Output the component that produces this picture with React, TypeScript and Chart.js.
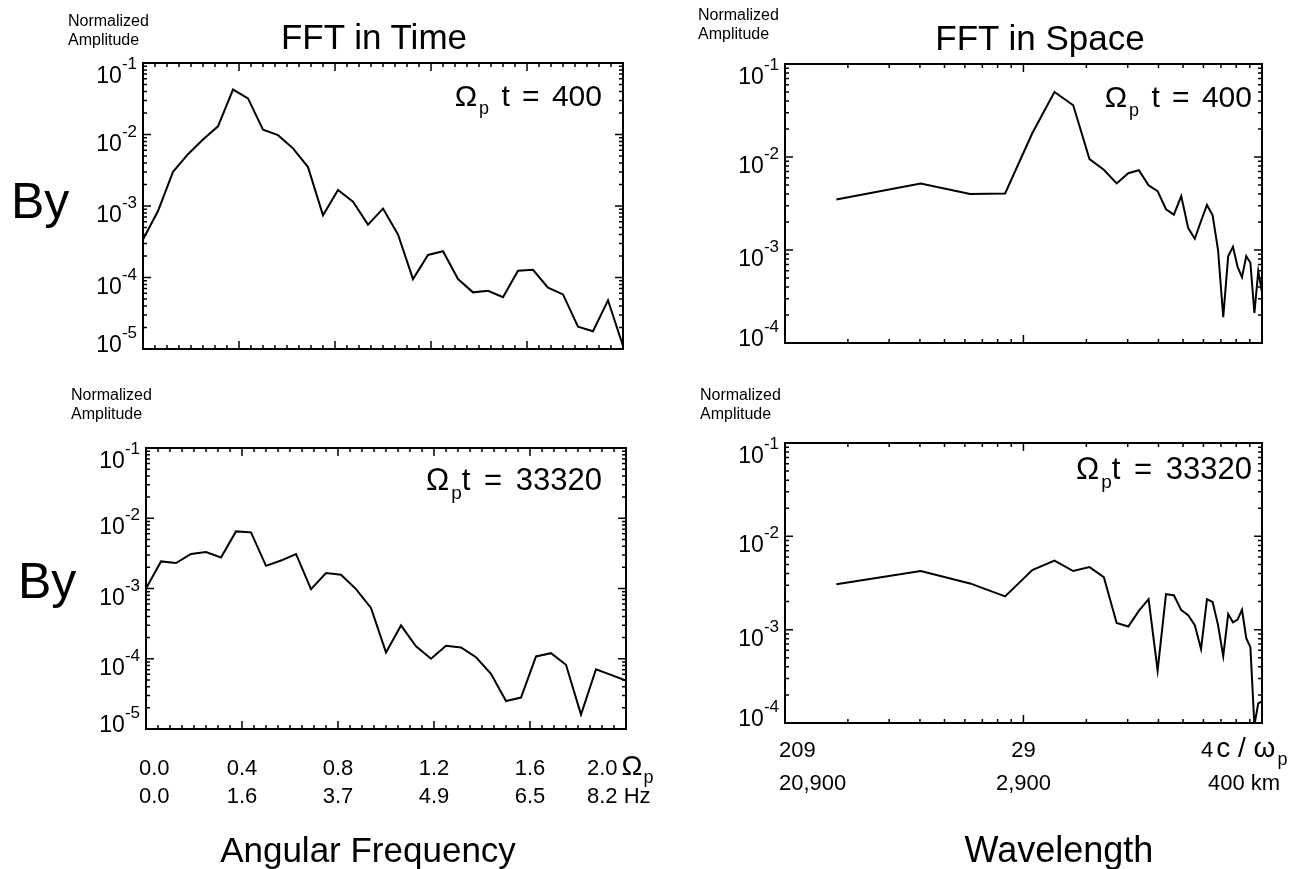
import React, { useEffect, useRef } from 'react';
import { Chart, registerables } from 'chart.js';

Chart.register(...registerables);

const PAGE_W = 1299;
const PAGE_H = 869;
const FONT = '"Liberation Sans", Arial, sans-serif';

// ---------- data ----------
// angular frequency (units of Omega_p) for the FFT in time
const freqOmega = [
  0, 0.0625, 0.125, 0.1875, 0.25, 0.3125, 0.375, 0.4375, 0.5, 0.5625, 0.625,
  0.6875, 0.75, 0.8125, 0.875, 0.9375, 1.0, 1.0625, 1.125, 1.1875, 1.25,
  1.3125, 1.375, 1.4375, 1.5, 1.5625, 1.625, 1.6875, 1.75, 1.8125, 1.875,
  1.9375, 2.0,
];
const timeAmp400 = [
  3.4e-4, 8.5e-4, 3.0e-3, 5.3e-3, 8.5e-3, 1.3e-2, 4.25e-2, 3.2e-2, 1.17e-2,
  9.8e-3, 6.4e-3, 3.5e-3, 7.4e-4, 1.67e-3, 1.15e-3, 5.5e-4, 9.2e-4, 4.0e-4,
  9.5e-5, 2.07e-4, 2.33e-4, 9.5e-5, 6.2e-5, 6.5e-5, 5.3e-5, 1.24e-4, 1.28e-4,
  7.2e-5, 5.8e-5, 2.05e-5, 1.77e-5, 4.8e-5, 1.1e-5,
];
const timeAmp33320 = [
  1.0e-3, 2.43e-3, 2.3e-3, 3.1e-3, 3.3e-3, 2.77e-3, 6.5e-3, 6.3e-3, 2.1e-3,
  2.5e-3, 3.1e-3, 9.8e-4, 1.66e-3, 1.57e-3, 9.8e-4, 5.3e-4, 1.23e-4, 2.98e-4,
  1.5e-4, 1.0e-4, 1.53e-4, 1.45e-4, 1.05e-4, 6.1e-5, 2.5e-5, 2.8e-5, 1.08e-4,
  1.2e-4, 8.2e-5, 1.6e-5, 7.1e-5, 5.9e-5, 4.9e-5,
];

// spatial mode numbers for the FFT in space
const modeNumbers = [
  1, 2, 3, 4, 5, 6, 7, 8, 9, 10, 11, 12, 13, 14, 15, 16, 17, 18, 19, 20, 21,
  22, 23, 24, 25, 26, 27, 28, 29, 30, 31, 32, 33,
];
const spaceAmp400 = [
  3.5e-3, 5.2e-3, 4.0e-3, 4.06e-3, 1.8e-2, 5.0e-2, 3.6e-2, 9.5e-3, 7.3e-3,
  5.2e-3, 6.7e-3, 7.2e-3, 4.97e-3, 4.3e-3, 2.74e-3, 2.4e-3, 3.8e-3, 1.72e-3,
  1.32e-3, 2.05e-3, 3.05e-3, 2.36e-3, 1.0e-3, 1.9e-4, 8.6e-4, 1.08e-3, 6.6e-4,
  5.1e-4, 8.6e-4, 7.3e-4, 2.1e-4, 5.9e-4, 3.5e-4,
];
const spaceAmp33320 = [
  3.06e-3, 4.25e-3, 3.13e-3, 2.27e-3, 4.35e-3, 5.5e-3, 4.25e-3, 4.68e-3,
  3.66e-3, 1.18e-3, 1.08e-3, 1.59e-3, 2.12e-3, 3.66e-4, 2.4e-3, 2.34e-3,
  1.62e-3, 1.43e-3, 1.12e-3, 6.2e-4, 2.12e-3, 1.98e-3, 1.12e-3, 5.2e-4,
  1.47e-3, 1.2e-3, 1.28e-3, 1.63e-3, 8.1e-4, 6.5e-4, 9.5e-5, 1.62e-4, 1.71e-4,
];

// tick labels
const freqTickValues = [0, 0.4, 0.8, 1.2, 1.6, 2.0];
const freqTickOmega = ['0.0', '0.4', '0.8', '1.2', '1.6', '2.0'];
const freqTickHz = ['0.0', '1.6', '3.7', '4.9', '6.5', '8.2 Hz'];
// mode-number positions of the wavelength ticks (209, 29, 4 c/omega_p)
const waveTickModes = [0.656, 4.65, 33];
const waveTickInertial = ['209', '29', '4'];
const waveTickKm = ['20,900', '2,900', '400 km'];

// ---------- panels ----------
type Box = { left: number; top: number; right: number; bottom: number };
type Panel = {
  box: Box;
  xType: 'linear' | 'logarithmic';
  xMin: number;
  xMax: number;
  yMinExp: number;
  yMaxExp: number;
  xs: number[];
  ys: number[];
  xMajor: number[];
  xMinor: number[];
  xLabels?: 'freq' | 'wave';
};

const freqMinor: number[] = [];
for (let i = 0; i <= 40; i++) {
  if (i % 8 !== 0) freqMinor.push(i * 0.05);
}
const waveMinor: number[] = [];
for (let i = 1; i <= 8; i++) {
  waveMinor.push(waveTickModes[0] + (i * (waveTickModes[1] - waveTickModes[0])) / 9);
  waveMinor.push(waveTickModes[1] + (i * (waveTickModes[2] - waveTickModes[1])) / 9);
}

const panels: Panel[] = [
  {
    box: { left: 143, top: 63, right: 623, bottom: 349 },
    xType: 'linear', xMin: 0, xMax: 2, yMinExp: -5, yMaxExp: -1,
    xs: freqOmega, ys: timeAmp400, xMajor: freqTickValues, xMinor: freqMinor,
  },
  {
    box: { left: 785, top: 64, right: 1262, bottom: 343 },
    xType: 'logarithmic', xMin: waveTickModes[0], xMax: waveTickModes[2], yMinExp: -4, yMaxExp: -1,
    xs: modeNumbers, ys: spaceAmp400, xMajor: [waveTickModes[1]], xMinor: waveMinor,
  },
  {
    box: { left: 146, top: 448, right: 626, bottom: 729 },
    xType: 'linear', xMin: 0, xMax: 2, yMinExp: -5, yMaxExp: -1,
    xs: freqOmega, ys: timeAmp33320, xMajor: freqTickValues, xMinor: freqMinor, xLabels: 'freq',
  },
  {
    box: { left: 785, top: 443, right: 1262, bottom: 723 },
    xType: 'logarithmic', xMin: waveTickModes[0], xMax: waveTickModes[2], yMinExp: -4, yMaxExp: -1,
    xs: modeNumbers, ys: spaceAmp33320, xMajor: [waveTickModes[1]], xMinor: waveMinor, xLabels: 'wave',
  },
];

function drawDecor(chart: any, p: Panel) {
  const ctx: CanvasRenderingContext2D = chart.ctx;
  const a = chart.chartArea;
  const xs = chart.scales.x;
  const ys = chart.scales.y;
  ctx.save();
  ctx.strokeStyle = '#000';
  ctx.fillStyle = '#000';
  ctx.lineWidth = 1.5;
  ctx.beginPath();
  const tickX = (v: number, len: number) => {
    const px = xs.getPixelForValue(v);
    ctx.moveTo(px, a.bottom);
    ctx.lineTo(px, a.bottom - len);
    ctx.moveTo(px, a.top);
    ctx.lineTo(px, a.top + len);
  };
  const tickY = (v: number, len: number) => {
    const py = ys.getPixelForValue(v);
    ctx.moveTo(a.left, py);
    ctx.lineTo(a.left + len, py);
    ctx.moveTo(a.right, py);
    ctx.lineTo(a.right - len, py);
  };
  p.xMajor.forEach((v) => tickX(v, 8));
  p.xMinor.forEach((v) => tickX(v, 4));
  for (let e = p.yMinExp; e <= p.yMaxExp; e++) {
    tickY(Math.pow(10, e), 8);
    if (e < p.yMaxExp) for (let k = 2; k <= 9; k++) tickY(k * Math.pow(10, e), 4);
  }
  ctx.stroke();
  ctx.lineWidth = 2;
  ctx.strokeRect(a.left, a.top, a.right - a.left, a.bottom - a.top);

  // y tick labels 10^e
  ctx.textBaseline = 'alphabetic';
  for (let e = p.yMinExp; e <= p.yMaxExp; e++) {
    const py = ys.getPixelForValue(Math.pow(10, e));
    const adj = e === p.yMaxExp ? 4 : e === p.yMinExp ? -13 : 0;
    const sup = String(e);
    ctx.textAlign = 'right';
    ctx.font = `17px ${FONT}`;
    const supRight = a.left - 6;
    ctx.fillText(sup, supRight, py + 2 + adj);
    const supW = ctx.measureText(sup).width;
    ctx.font = `23px ${FONT}`;
    ctx.fillText('10', supRight - supW, py + 16 + adj);
  }

  // x tick labels
  const LBL = 22;
  if (p.xLabels === 'freq') {
    const r1 = a.bottom + 46;
    const r2 = a.bottom + 74;
    ctx.font = `${LBL}px ${FONT}`;
    freqTickValues.forEach((v, i) => {
      const px = xs.getPixelForValue(v);
      if (i === 0) {
        ctx.textAlign = 'left';
        ctx.fillText(freqTickOmega[i], a.left - 7, r1);
        ctx.fillText(freqTickHz[i], a.left - 7, r2);
      } else if (i === freqTickValues.length - 1) {
        ctx.textAlign = 'left';
        const lx = a.right - 39;
        ctx.font = `${LBL}px ${FONT}`;
        ctx.fillText(freqTickOmega[i], lx, r1);
        const w = ctx.measureText(freqTickOmega[i]).width;
        ctx.fillText(freqTickHz[i], lx, r2);
        ctx.font = `28px ${FONT}`;
        ctx.fillText('\u03A9', lx + w + 4, r1);
        const ow = ctx.measureText('\u03A9').width;
        ctx.font = `18px ${FONT}`;
        ctx.fillText('p', lx + w + 4 + ow + 1, r1 + 8);
      } else {
        ctx.textAlign = 'center';
        ctx.font = `${LBL}px ${FONT}`;
        ctx.fillText(freqTickOmega[i], px, r1);
        ctx.fillText(freqTickHz[i], px, r2);
      }
    });
  } else if (p.xLabels === 'wave') {
    const r1 = a.bottom + 34;
    const r2 = a.bottom + 67;
    ctx.font = `${LBL}px ${FONT}`;
    waveTickModes.forEach((v, i) => {
      const px = xs.getPixelForValue(v);
      if (i === 0) {
        ctx.textAlign = 'left';
        ctx.fillText(waveTickInertial[i], a.left - 6, r1);
        ctx.fillText(waveTickKm[i], a.left - 6, r2);
      } else if (i === waveTickModes.length - 1) {
        ctx.textAlign = 'left';
        ctx.font = `${LBL}px ${FONT}`;
        const lx = a.right - 61;
        ctx.fillText(waveTickInertial[i], lx, r1);
        const w = ctx.measureText(waveTickInertial[i]).width;
        ctx.fillText(waveTickKm[i], a.right - 54, r2);
        ctx.font = `28px ${FONT}`;
        const unit = 'c / \u03C9';
        ctx.fillText(unit, lx + w + 3, r1);
        const uw = ctx.measureText(unit).width;
        ctx.font = `18px ${FONT}`;
        ctx.fillText('p', lx + w + 3 + uw + 2, r1 + 8);
      } else {
        ctx.textAlign = 'center';
        ctx.font = `${LBL}px ${FONT}`;
        ctx.fillText(waveTickInertial[i], px, r1);
        ctx.fillText(waveTickKm[i], px, r2);
      }
    });
  }
  ctx.restore();
}

function PanelChart({ p }: { p: Panel }) {
  const ref = useRef<HTMLCanvasElement | null>(null);
  useEffect(() => {
    if (!ref.current) return;
    const chart = new Chart(ref.current, {
      type: 'line',
      data: {
        datasets: [
          {
            data: p.xs.map((x, i) => ({ x, y: p.ys[i] })),
            borderColor: '#000',
            borderWidth: 2,
            pointRadius: 0,
            tension: 0,
            fill: false,
          },
        ],
      },
      options: {
        responsive: false,
        animation: false,
        devicePixelRatio: 1,
        events: [],
        layout: {
          padding: {
            left: p.box.left,
            top: p.box.top,
            right: PAGE_W - p.box.right,
            bottom: PAGE_H - p.box.bottom,
          },
        },
        plugins: { legend: { display: false }, tooltip: { enabled: false }, title: { display: false } },
        scales: {
          x: { type: p.xType, min: p.xMin, max: p.xMax, display: false },
          y: { type: 'logarithmic', min: Math.pow(10, p.yMinExp), max: Math.pow(10, p.yMaxExp), display: false },
        },
      } as any,
      plugins: [
        {
          id: 'decor',
          afterDatasetsDraw(chart: any) {
            drawDecor(chart, p);
          },
        },
      ],
    });
    return () => chart.destroy();
  }, [p]);
  return (
    <canvas
      ref={ref}
      width={PAGE_W}
      height={PAGE_H}
      style={{ position: 'absolute', left: 0, top: 0, width: PAGE_W, height: PAGE_H }}
    />
  );
}

function Txt({
  x, base, size, align = 'left', spacing = 0, children,
}: {
  x: number; base: number; size: number; align?: 'left' | 'center' | 'right'; spacing?: number;
  children: React.ReactNode;
}) {
  const style: React.CSSProperties = {
    position: 'absolute',
    top: base - 0.8465 * size,
    fontSize: size,
    lineHeight: `${size}px`,
    fontFamily: FONT,
    whiteSpace: 'pre',
    wordSpacing: spacing,
    color: '#000',
  };
  if (align === 'left') style.left = x;
  else if (align === 'right') style.right = PAGE_W - x;
  else {
    style.left = x;
    style.transform = 'translateX(-50%)';
  }
  return <div style={style}>{children}</div>;
}

function Sub({ size, drop, children }: { size: number; drop: number; children: React.ReactNode }) {
  return <span style={{ fontSize: size, position: 'relative', top: drop, marginLeft: 2 }}>{children}</span>;
}

export default function App() {
  return (
    <div
      style={{
        position: 'absolute', left: 0, top: 0, width: PAGE_W, height: PAGE_H,
        background: '#fff', overflow: 'hidden',
      }}
    >
      {panels.map((p, i) => (
        <PanelChart key={i} p={p} />
      ))}
      {/* Normalized Amplitude labels */}
      <Txt x={68} base={27} size={16}>Normalized</Txt>
      <Txt x={68} base={46} size={16}>Amplitude</Txt>
      <Txt x={698} base={21} size={16}>Normalized</Txt>
      <Txt x={698} base={40} size={16}>Amplitude</Txt>
      <Txt x={71} base={401} size={16}>Normalized</Txt>
      <Txt x={71} base={420} size={16}>Amplitude</Txt>
      <Txt x={700} base={401} size={16}>Normalized</Txt>
      <Txt x={700} base={420} size={16}>Amplitude</Txt>
      {/* titles */}
      <Txt x={374} base={49} size={35} align="center">FFT in Time</Txt>
      <Txt x={1040} base={50} size={35} align="center">FFT in Space</Txt>
      {/* By labels */}
      <Txt x={11} base={218} size={50}>By</Txt>
      <Txt x={18} base={598} size={50}>By</Txt>
      {/* time stamps */}
      <Txt x={602} base={106} size={30} align="right" spacing={4}>
        {'\u03A9'}<Sub size={18} drop={8}>p</Sub> t = 400
      </Txt>
      <Txt x={1252} base={107} size={30} align="right" spacing={4}>
        {'\u03A9'}<Sub size={18} drop={9}>p</Sub> t = 400
      </Txt>
      <Txt x={602} base={490} size={31} align="right" spacing={5}>
        {'\u03A9'}<Sub size={19} drop={9}>p</Sub>t = 33320
      </Txt>
      <Txt x={1252} base={479} size={31} align="right" spacing={5}>
        {'\u03A9'}<Sub size={19} drop={9}>p</Sub>t = 33320
      </Txt>
      {/* axis titles */}
      <Txt x={368} base={862} size={35} align="center">Angular Frequency</Txt>
      <Txt x={1059} base={862} size={36} align="center">Wavelength</Txt>
    </div>
  );
}
